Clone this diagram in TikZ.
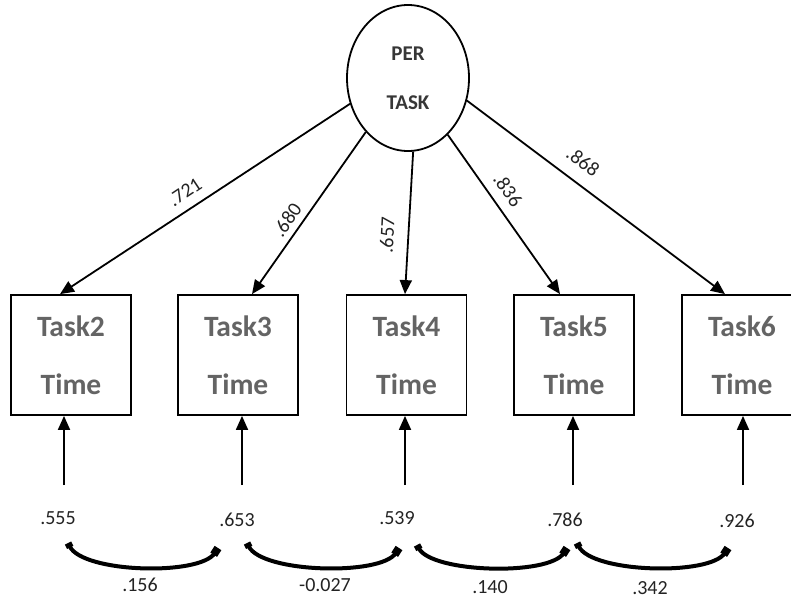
\documentclass[tikz,border=0pt]{standalone}
\usepackage{fontspec}
\setmainfont{Carlito}
\usetikzlibrary{arrows.meta,shapes.geometric}
\definecolor{boxtext}{RGB}{100,100,100}
\definecolor{lattext}{RGB}{55,55,55}
\definecolor{numtext}{RGB}{35,35,35}
\begin{document}
\begin{tikzpicture}[x=1pt,y=-1pt,
  box/.style={draw, line width=1.8pt, minimum width=120pt, minimum height=120pt, inner sep=0pt,
    align=center, font=\fontsize{29.5}{34}\selectfont\bfseries, text=boxtext},
  lat/.style={draw, ellipse, line width=1.8pt, minimum width=122pt, minimum height=146pt, inner sep=0pt,
    align=center, font=\fontsize{21}{24}\selectfont\bfseries, text=lattext},
  num/.style={font=\fontsize{20}{23}\selectfont, text=numtext, inner sep=0pt},
  load/.style={line width=1.8pt, -{Triangle[length=14pt,width=12pt]}},
  cov/.style={line width=4pt, {Square[length=5pt,width=7pt]}-{Square[length=8pt,width=8pt]}},
]
\useasboundingbox (0,0) rectangle (791,600);
\clip (0,0) rectangle (791,600);

\node[lat] (per) at (408,78) {PER\\[25pt]TASK};

\node[box] (t2) at (71,355) {Task2\\[24pt]Time};
\node[box] (t3) at (238,355) {Task3\\[24pt]Time};
\node[box] (t4) at (406.5,355) {Task4\\[24pt]Time};
\node[box] (t5) at (574,355) {Task5\\[24pt]Time};
\node[box] (t6) at (742,355) {Task6\\[24pt]Time};

% loading arrows
\coordinate (e2) at ([xshift=-11pt]t2.north);
\coordinate (e3) at ([xshift=14pt]t3.north);
\coordinate (e4) at ([xshift=-1.5pt]t4.north);
\coordinate (e5) at ([xshift=-14pt]t5.north);
\coordinate (e6) at ([xshift=-17pt]t6.north);
\draw[load] (per.204) -- (e2);
\draw[load] (per.232) -- (e3);
\draw[load] (per.274) -- (e4);
\draw[load] (per.305) -- (e5);
\draw[load] (per.339) -- (e6);

\node[num, rotate=33.6] (l2) at (185,192) {.721};
\node[num, rotate=55] (l3) at (287,220) {.680};
\node[num, rotate=87] (l4) at (387,235) {.657};
\node[num, rotate=-55] (l5) at (508,190) {.836};
\node[num, rotate=-37] (l6) at (583,162) {.868};

% error arrows
\coordinate (b2) at (64,485);
\coordinate (b3) at (242,485);
\coordinate (b4) at (405,485);
\coordinate (b5) at (573,485);
\coordinate (b6) at (743,485);
\draw[load] (b2) -- (b2 |- t2.south);
\draw[load] (b3) -- (b3 |- t3.south);
\draw[load] (b4) -- (b4 |- t4.south);
\draw[load] (b5) -- (b5 |- t5.south);
\draw[load] (b6) -- (b6 |- t6.south);

\node[num] (r2) at (58,518) {.555};
\node[num] (r3) at (237,520) {.653};
\node[num] (r4) at (397,518) {.539};
\node[num] (r5) at (565,520) {.786};
\node[num] (r6) at (737,521) {.926};

% covariances
\coordinate (c1a) at (68,543);  \coordinate (c1b) at (218,548);
\coordinate (c2a) at (247,543); \coordinate (c2b) at (399,548);
\coordinate (c3a) at (417,545); \coordinate (c3b) at (567,548);
\coordinate (c4a) at (577,543); \coordinate (c4b) at (728,548);
\draw[cov] (c1a) .. controls +(15,30) and +(-18,28) .. (c1b);
\draw[cov] (c2a) .. controls +(15,30) and +(-18,28) .. (c2b);
\draw[cov] (c3a) .. controls +(15,28) and +(-18,28) .. (c3b);
\draw[cov] (c4a) .. controls +(15,30) and +(-18,28) .. (c4b);

\node[num] (k1) at (140,585) {.156};
\node[num] (k2) at (325,585) {-0.027};
\node[num] (k3) at (490,587) {.140};
\node[num] (k4) at (650,588) {.342};
\end{tikzpicture}
\end{document}
